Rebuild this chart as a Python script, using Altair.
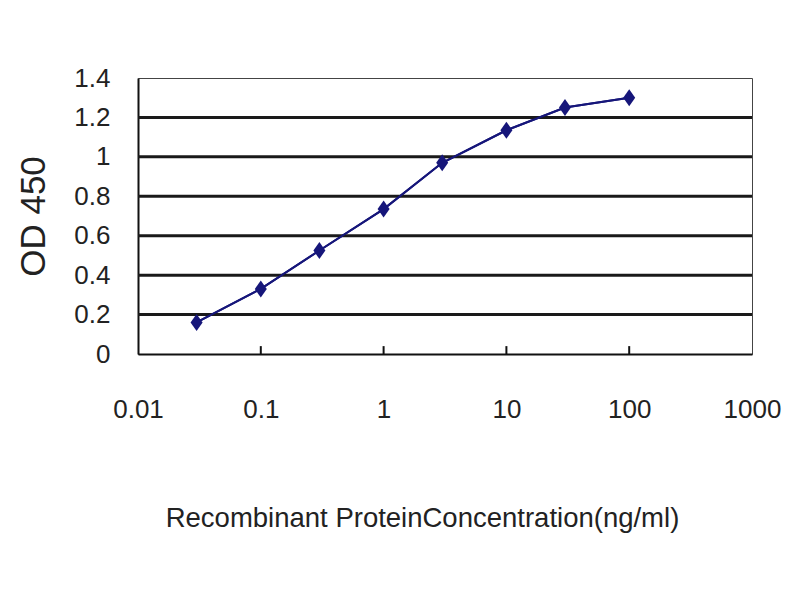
import altair as alt
import pandas as pd

conc = [0.03, 0.1, 0.3, 1, 3, 10, 30, 100]
od = [0.16, 0.33, 0.525, 0.735, 0.97, 1.135, 1.25, 1.30]
x_ticks = [0.01, 0.1, 1, 10, 100, 1000]
inner_ticks = [0.1, 1, 10, 100]
y_ticks = [0, 0.2, 0.4, 0.6, 0.8, 1, 1.2, 1.4]
grid_vals = [0.2, 0.4, 0.6, 0.8, 1, 1.2]

df = pd.DataFrame({"conc": conc, "od": od})
grid_df = pd.DataFrame({"od": grid_vals})
tick_df = pd.DataFrame({"conc": inner_ticks, "od": [0] * 4, "y1": [0.04] * 4})

FONT = "Liberation Sans, Arial"
NAVY = "#16167a"

xscale = alt.Scale(type="log", domain=[0.01, 1000], nice=False)
yscale = alt.Scale(domain=[0, 1.4], nice=False)

xaxis = alt.Axis(
    values=x_ticks, labelExpr="'' + datum.value", grid=False, ticks=False,
    labelFont=FONT, labelFontSize=26, labelColor="#222", labelPadding=42,
    labelBaseline="top", domainColor="#111", domainWidth=2,
    titleFont=FONT, titleFontSize=27.5, titleFontWeight="normal", titleColor="#222",
    titleX=284, titleY=164, titleAlign="center", titleBaseline="middle",
    labelFlush=False, labelOverlap=False,
)
yaxis = alt.Axis(
    values=y_ticks, labelExpr="'' + datum.value", grid=False, ticks=False,
    labelFont=FONT, labelFontSize=26, labelColor="#222", labelPadding=28,
    domainColor="#111", domainWidth=2,
    titleFont=FONT, titleFontSize=35, titleFontWeight="normal", titleColor="#222",
    titleAngle=270, titleX=-105, titleY=138, titleAlign="center", titleBaseline="middle",
    labelFlush=False, labelOverlap=False,
)

X = alt.X("conc:Q", scale=xscale, axis=xaxis, title="Recombinant ProteinConcentration(ng/ml)")
Y = alt.Y("od:Q", scale=yscale, axis=yaxis, title="OD 450")

line = alt.Chart(df).mark_line(color=NAVY, strokeWidth=2).encode(x=X, y=Y)
grid = alt.Chart(grid_df).mark_rule(color="#1a1a1a", strokeWidth=3).encode(y=Y)
ticks = alt.Chart(tick_df).mark_rule(color="#111", strokeWidth=2).encode(
    x=X, y=Y, y2="y1:Q",
)
pts = alt.Chart(df).mark_point(
    shape="M0,-1.2L0.85,0L0,1.2L-0.85,0Z", filled=True, color=NAVY, size=200, opacity=1
).encode(x=X, y=Y)

chart = alt.layer(line, grid, ticks, line, pts).properties(
    width=614, height=276,
    autosize=alt.AutoSizeParams(type="none"),
    padding={"left": 130, "top": 70, "right": 40, "bottom": 238},
    background="white",
).configure_view(stroke="#444", strokeWidth=1)

chart.save("out.html", embed_options={"renderer": "svg", "actions": False})
